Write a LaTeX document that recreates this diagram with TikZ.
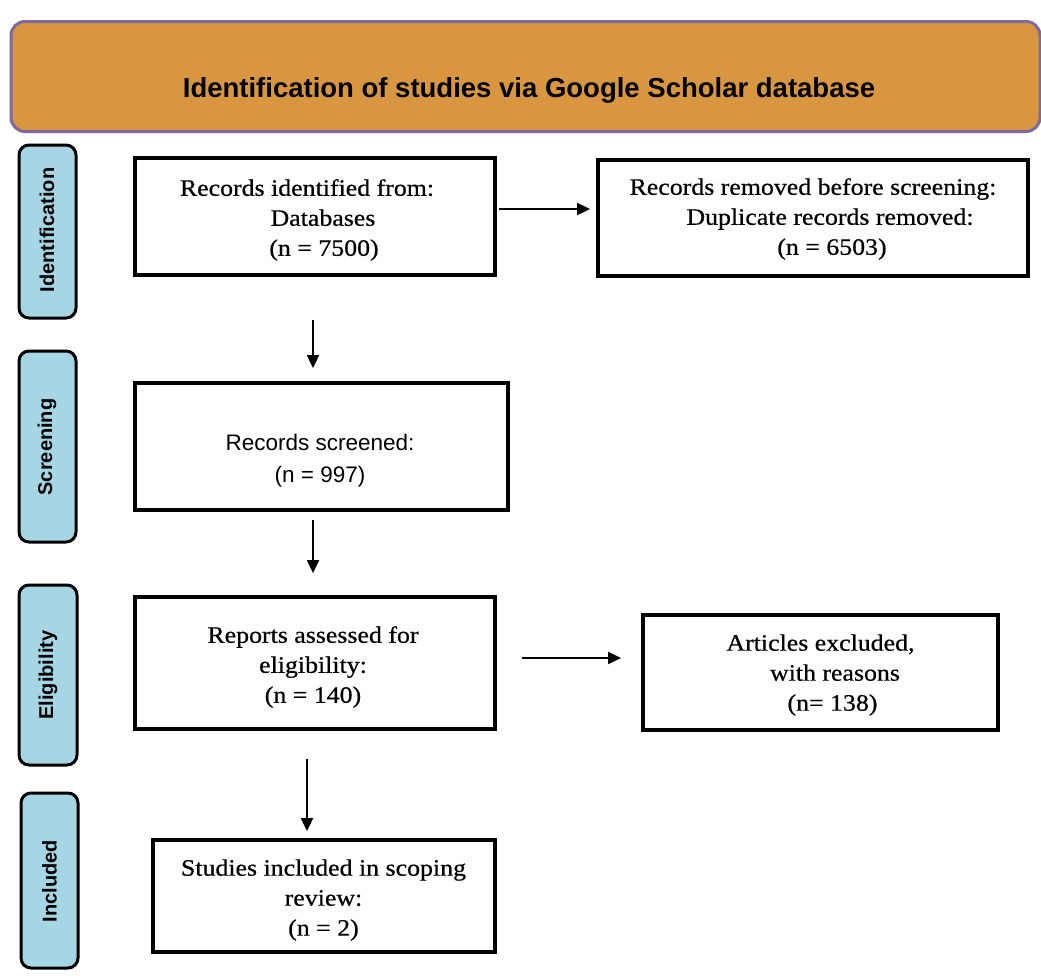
\documentclass[tikz,border=0pt]{standalone}
\usepackage{fontspec}
\usetikzlibrary{arrows.meta,calc}
\newfontfamily\serifA{Liberation Serif}[FakeStretch=1.10,FakeBold=0.6]
\newfontfamily\sansA{Liberation Sans}
\definecolor{headfill}{HTML}{D99641}
\definecolor{headdraw}{HTML}{7D699B}
\definecolor{sideblue}{HTML}{A6D6E4}
\tikzset{
  box/.style={draw=black, line width=3.8pt, fill=white, inner sep=0pt},
  side/.style={draw=black, line width=3pt, fill=sideblue, rounded corners=10pt, inner sep=0pt},
  header/.style={draw=headdraw, line width=3pt, fill=headfill, rounded corners=14pt, inner sep=0pt},
  arr/.style={-{Triangle[length=13pt,width=12pt]}, line width=1.8pt},
  stxt/.style={font=\serifA\fontsize{23.5}{30}\selectfont, align=center, inner sep=0pt},
  sidetxt/.style={font=\sansA\bfseries\fontsize{20}{22}\selectfont, rotate=90, inner sep=0pt},
}
\begin{document}
\begin{tikzpicture}[x=1pt,y=-1pt]
\useasboundingbox (0,0) rectangle (1041,978);

% header
\node[header, minimum width=1029pt, minimum height=110pt] (head) at (525.5,76.5) {};
\node[font=\sansA\bfseries\fontsize{27.5}{30}\selectfont, inner sep=0pt] (headtxt) at (529,90)
  {Identification of studies via Google Scholar database};

% side labels
\node[side, minimum width=57pt, minimum height=173pt] (sid) at (47.5,231.5) {};
\node[sidetxt] (sidt) at (47,230) {Identification};
\node[side, minimum width=57pt, minimum height=191pt] (sscr) at (47.5,446.5) {};
\node[sidetxt] (sscrt) at (47,447) {Screening};
\node[side, minimum width=58pt, minimum height=180pt] (selig) at (48,675) {};
\node[sidetxt] (seligt) at (48,675) {Eligibility};
\node[side, minimum width=57pt, minimum height=175pt] (sinc) at (49.5,880.5) {};
\node[sidetxt] (sinct) at (49.5,881) {Included};

% boxes
\node[box, minimum width=360pt, minimum height=117pt] (ident) at (315,216.5) {};
\node[stxt] (identt) at (315,220)
  {Records identified from:\hspace*{16pt}\\\hspace*{16pt}Databases\\\hspace*{18pt}(n = 7500)};

\node[box, minimum width=430pt, minimum height=116pt] (removed) at (813,218) {};
\node[stxt] (removedt) at (813,219)
  {Records removed before screening:\\\hspace*{34pt}Duplicate records removed:\\\hspace*{38pt}(n = 6503)};

\node[box, minimum width=373pt, minimum height=127pt] (screened) at (321.5,446.5) {};
\node[font=\sansA\fontsize{22.5}{32}\selectfont, align=center, inner sep=0pt] (screenedt) at (320,461)
  {Records screened:\\(n = 997)};

\node[box, minimum width=360pt, minimum height=132pt] (reports) at (315,663) {};
\node[stxt] (reportst) at (313,667)
  {Reports assessed for\\eligibility:\\(n = 140)};

\node[box, minimum width=355pt, minimum height=115pt] (articles) at (820.5,672.5) {};
\node[stxt] (articlest) at (820.5,675)
  {Articles excluded,\\\hspace*{29pt}with reasons\\\hspace*{24pt}(n= 138)};

\node[box, minimum width=342pt, minimum height=112pt] (studies) at (324,896) {};
\node[stxt] (studiest) at (323.5,900)
  {Studies included in scoping\\review:\\(n = 2)};

% connectors
\draw[arr, shorten <=2pt, shorten >=6pt] ([yshift=7.5pt]ident.east) -- ([yshift=7.5pt]ident.east -| removed.west);
\draw[arr, shorten <=43pt, shorten >=13pt] ([xshift=-2pt]ident.south) -- ([xshift=-2pt]ident.south |- screened.north);
\draw[arr, shorten <=8pt, shorten >=22pt] ([xshift=-8.5pt]screened.south) -- ([xshift=-8.5pt]screened.south |- reports.north);
\draw[arr, shorten <=25pt, shorten >=20pt] ([yshift=5pt]reports.east) -- ([yshift=5pt]reports.east -| articles.west);
\draw[arr, shorten <=28pt, shorten >=7pt] ([xshift=-8pt]reports.south) -- ([xshift=-8pt]reports.south |- studies.north);
\end{tikzpicture}
\end{document}
